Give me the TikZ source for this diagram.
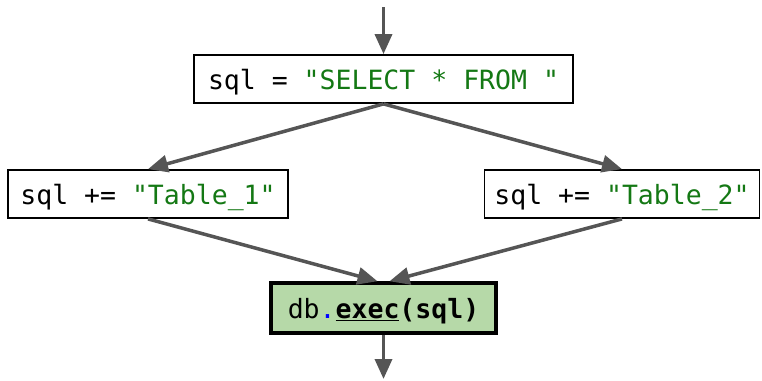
\documentclass[tikz,border=0pt]{standalone}
\usepackage{fontspec}
\usetikzlibrary{arrows.meta}
\newfontfamily\codefont{DejaVu Sans Mono}
\definecolor{strgreen}{RGB}{20,120,20}
\definecolor{arrowgray}{RGB}{85,85,85}
\definecolor{execfill}{RGB}{182,217,168}
\newcommand{\str}[1]{\textcolor{strgreen}{#1}}

\begin{document}
\begin{tikzpicture}[x=1pt,y=-1pt,
    codebox/.style={draw=black, line width=1.8pt, minimum height=48pt,
        inner sep=0pt, text height=20pt, text depth=0pt,
        font=\codefont\fontsize{26.5}{30}\selectfont},
    execbox/.style={codebox, fill=execfill, line width=3.5pt, minimum height=50pt},
    flow/.style={draw=arrowgray, line width=3.5pt,
        -{Triangle[length=20pt,width=17pt]}}]
    \useasboundingbox (0,0) rectangle (762,380);
    \node[codebox, minimum width=379pt] (select) at (383.5,79) {sql = \str{"SELECT * FROM "}};
    \node[codebox, minimum width=280pt] (table1) at (148,194) {sql += \str{"Table\_1"}};
    \node[codebox, minimum width=275pt] (table2) at (622,194) {sql += \str{"Table\_2"}};
    \node[execbox, minimum width=225pt] (exec) at (383.5,308)
        {db\textcolor{blue}{.}\textbf{\underline{exec}(sql)}};
    \coordinate (in) at (383.5,7);
    \coordinate (out) at (383.5,379);
    % connectors
    \draw[flow] (in) -- (select.north);
    \draw[flow] (select.south) -- (table1.north);
    \draw[flow] (select.south) -- (table2.north);
    \draw[flow] (table1.south) -- ([xshift=-6pt]exec.north);
    \draw[flow] (table2.south) -- ([xshift=6pt]exec.north);
    \draw[flow] (exec.south) -- (out);
\end{tikzpicture}
\end{document}
